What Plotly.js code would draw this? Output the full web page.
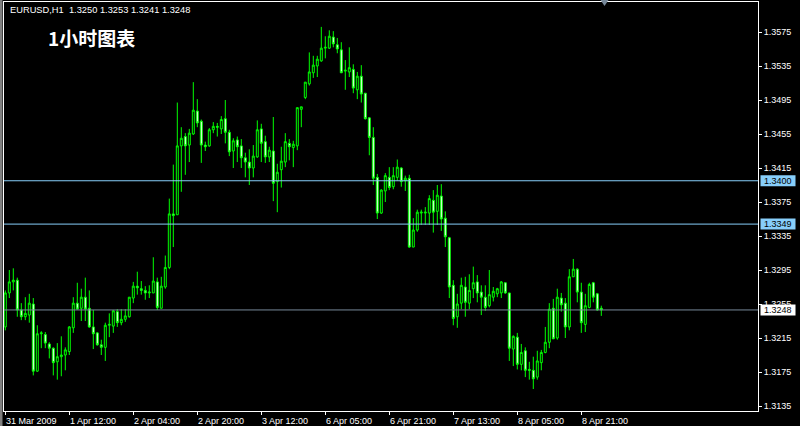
<!DOCTYPE html>
<html>
<head>
<meta charset="utf-8">
<script src="https://cdn.plot.ly/plotly-3.0.1.min.js"></script>
<style>html,body{margin:0;padding:0;background:#000;}#chart{width:800px;height:426px;}</style>
</head>
<body>
<div id="chart"></div>
<script>
// ---- data (EURUSD H1) ----
const symbolTitle = "EURUSD,H1";
const chartTitle = "1小时图表";
const lastQuote = [1.3250, 1.3253, 1.3241, 1.3248]; // O H L C of last bar

const openP = [
1.3228,1.3268,1.3281,1.3283,1.3248,1.3240,1.3242,1.3255,1.3176,1.3220,
1.3219,1.3208,1.3203,1.3187,1.3193,1.3195,1.3199,1.3227,1.3256,1.3250,
1.3263,1.3250,1.3228,1.3221,1.3207,1.3204,1.3230,1.3229,1.3246,1.3233,
1.3237,1.3240,1.3262,1.3276,1.3273,1.3271,1.3268,1.3268,1.3281,1.3250,
1.3275,1.3298,1.3361,1.3360,1.3441,1.3452,1.3442,1.3455,1.3482,1.3470,
1.3442,1.3441,1.3460,1.3464,1.3461,1.3473,1.3457,1.3435,1.3448,1.3441,
1.3427,1.3422,1.3415,1.3428,1.3461,1.3446,1.3428,1.3435,1.3399,1.3413,
1.3422,1.3444,1.3439,1.3441,1.3484,1.3498,1.3514,1.3527,1.3535,1.3541,
1.3556,1.3556,1.3569,1.3560,1.3554,1.3529,1.3528,1.3531,1.3507,1.3523,
1.3503,1.3474,1.3451,1.3404,1.3362,1.3388,1.3404,1.3393,1.3404,1.3415,
1.3400,1.3403,1.3322,1.3342,1.3362,1.3362,1.3362,1.3377,1.3364,1.3382,
1.3356,1.3333,1.3277,1.3240,1.3256,1.3275,1.3256,1.3273,1.3281,1.3269,
1.3263,1.3253,1.3263,1.3267,1.3268,1.3280,1.3268,1.3202,1.3216,1.3184,
1.3200,1.3178,1.3177,1.3169,1.3186,1.3198,1.3210,1.3250,1.3215,1.3262,
1.3256,1.3228,1.3287,1.3296,1.3269,1.3231,1.3251,1.3280,1.3267,1.3250];

const highP = [
1.3271,1.3295,1.3297,1.3286,1.3256,1.3263,1.3267,1.3262,1.3230,1.3223,
1.3222,1.3210,1.3204,1.3209,1.3217,1.3204,1.3229,1.3263,1.3280,1.3273,
1.3286,1.3271,1.3248,1.3222,1.3213,1.3233,1.3244,1.3248,1.3249,1.3249,
1.3249,1.3263,1.3281,1.3293,1.3282,1.3276,1.3277,1.3310,1.3286,1.3287,
1.3312,1.3379,1.3419,1.3492,1.3463,1.3456,1.3461,1.3516,1.3496,1.3472,
1.3446,1.3462,1.3469,1.3468,1.3476,1.3495,1.3460,1.3450,1.3452,1.3449,
1.3433,1.3437,1.3442,1.3471,1.3467,1.3453,1.3440,1.3475,1.3420,1.3440,
1.3456,1.3449,1.3447,1.3486,1.3487,1.3516,1.3551,1.3547,1.3547,1.3581,
1.3570,1.3577,1.3576,1.3568,1.3563,1.3542,1.3557,1.3537,1.3528,1.3536,
1.3503,1.3475,1.3463,1.3408,1.3390,1.3409,1.3416,1.3416,1.3425,1.3416,
1.3406,1.3407,1.3356,1.3366,1.3366,1.3369,1.3383,1.3389,1.3395,1.3396,
1.3364,1.3334,1.3283,1.3267,1.3286,1.3287,1.3290,1.3299,1.3289,1.3277,
1.3277,1.3295,1.3275,1.3274,1.3282,1.3280,1.3268,1.3218,1.3221,1.3208,
1.3204,1.3187,1.3193,1.3200,1.3201,1.3228,1.3256,1.3261,1.3273,1.3268,
1.3262,1.3296,1.3308,1.3297,1.3280,1.3267,1.3280,1.3281,1.3268,1.3253];

const lowP = [
1.3224,1.3262,1.3271,1.3240,1.3236,1.3236,1.3233,1.3171,1.3175,1.3203,
1.3203,1.3191,1.3171,1.3166,1.3170,1.3177,1.3195,1.3221,1.3248,1.3235,
1.3235,1.3227,1.3202,1.3206,1.3195,1.3188,1.3216,1.3221,1.3228,1.3230,
1.3234,1.3239,1.3256,1.3266,1.3266,1.3260,1.3262,1.3268,1.3248,1.3250,
1.3273,1.3296,1.3322,1.3360,1.3387,1.3407,1.3422,1.3454,1.3463,1.3421,
1.3435,1.3440,1.3456,1.3452,1.3455,1.3444,1.3429,1.3415,1.3422,1.3415,
1.3404,1.3395,1.3404,1.3427,1.3422,1.3421,1.3422,1.3376,1.3363,1.3392,
1.3416,1.3424,1.3416,1.3436,1.3463,1.3496,1.3512,1.3521,1.3522,1.3540,
1.3544,1.3555,1.3557,1.3550,1.3527,1.3507,1.3522,1.3503,1.3496,1.3492,
1.3472,1.3430,1.3395,1.3355,1.3361,1.3375,1.3389,1.3390,1.3400,1.3393,
1.3388,1.3321,1.3322,1.3340,1.3348,1.3348,1.3348,1.3339,1.3348,1.3341,
1.3322,1.3262,1.3230,1.3227,1.3249,1.3240,1.3249,1.3262,1.3257,1.3242,
1.3247,1.3251,1.3258,1.3263,1.3262,1.3267,1.3188,1.3182,1.3178,1.3177,
1.3169,1.3166,1.3155,1.3166,1.3177,1.3197,1.3203,1.3214,1.3213,1.3246,
1.3215,1.3224,1.3287,1.3257,1.3221,1.3222,1.3250,1.3257,1.3247,1.3241];

const closeP = [
1.3268,1.3281,1.3283,1.3248,1.3240,1.3244,1.3256,1.3176,1.3220,1.3221,
1.3209,1.3203,1.3186,1.3193,1.3195,1.3201,1.3228,1.3256,1.3249,1.3263,
1.3249,1.3228,1.3220,1.3207,1.3204,1.3230,1.3231,1.3247,1.3233,1.3237,
1.3241,1.3263,1.3276,1.3274,1.3271,1.3268,1.3269,1.3282,1.3251,1.3276,
1.3298,1.3361,1.3359,1.3441,1.3450,1.3441,1.3456,1.3483,1.3468,1.3442,
1.3440,1.3460,1.3464,1.3463,1.3472,1.3457,1.3434,1.3447,1.3440,1.3427,
1.3422,1.3415,1.3429,1.3460,1.3444,1.3428,1.3436,1.3397,1.3410,1.3423,
1.3446,1.3440,1.3443,1.3486,1.3487,1.3516,1.3528,1.3536,1.3543,1.3556,
1.3557,1.3570,1.3561,1.3555,1.3527,1.3530,1.3533,1.3509,1.3523,1.3502,
1.3473,1.3451,1.3403,1.3362,1.3389,1.3406,1.3392,1.3406,1.3416,1.3399,
1.3403,1.3322,1.3342,1.3363,1.3363,1.3363,1.3379,1.3363,1.3383,1.3355,
1.3334,1.3275,1.3238,1.3255,1.3277,1.3257,1.3271,1.3280,1.3268,1.3263,
1.3251,1.3266,1.3270,1.3273,1.3281,1.3268,1.3203,1.3217,1.3184,1.3198,
1.3177,1.3177,1.3167,1.3188,1.3198,1.3210,1.3249,1.3214,1.3263,1.3254,
1.3228,1.3287,1.3296,1.3269,1.3233,1.3253,1.3278,1.3263,1.3248,1.3248];

const xTickIdx = [0, 16, 32, 48, 64, 80, 96, 112, 128, 144];
const xTickText = ["31 Mar 2009","1 Apr 12:00","2 Apr 04:00","2 Apr 20:00","3 Apr 12:00",
                   "6 Apr 05:00","6 Apr 21:00","7 Apr 13:00","8 Apr 05:00","8 Apr 21:00"];
const yTickVals = [1.3135,1.3175,1.3215,1.3255,1.3295,1.3335,1.3375,1.3415,1.3455,1.3495,1.3535,1.3575];
const levelLines = [1.3400, 1.3349];
const bidLine = 1.3248;

// ---- geometry (pixels) ----
const PL = 4, PR = 758, PT = 2, PB = 411;
const PW = PR - PL, PH = PB - PT;
const px = x => (x - PL) / PW;
const py = y => (PB - y) / PH;
const yMin = 1.312912, yMax = 1.361029;
const pricePerPx = (yMax - yMin) / PH;

const barIdx = openP.map((_, i) => i);
const FONT = "Liberation Sans, Arial, sans-serif";

const trace = {
  type: "candlestick",
  x: barIdx, open: openP, high: highP, low: lowP, close: closeP,
  increasing: {line: {color: "#00FF00", width: 1}, fillcolor: "#000000"},
  decreasing: {line: {color: "#00FF00", width: 1}, fillcolor: "#FFFFFF"},
  whiskerwidth: 0,
  hoverinfo: "skip",
  showlegend: false
};

const shapes = [];
const annotations = [];

// left window edge
shapes.push({type: "rect", xref: "paper", yref: "paper", x0: px(0), x1: px(2.5), y0: py(426), y1: py(0),
  fillcolor: "#808080", line: {width: 0}, layer: "above"});

levelLines.forEach(v => {
  shapes.push({type: "line", xref: "paper", yref: "y", x0: 0, x1: 1, y0: v, y1: v,
    line: {color: "#87CEFA", width: 1}, layer: "above"});
  shapes.push({type: "rect", xref: "paper", yref: "y", x0: px(760.5), x1: px(795.5),
    y0: v - 5.5 * pricePerPx, y1: v + 5.5 * pricePerPx,
    fillcolor: "#87CEFA", line: {width: 0}, layer: "above"});
  annotations.push({xref: "paper", yref: "y", x: px(778), y: v, text: v.toFixed(4),
    showarrow: false, xanchor: "center", yanchor: "middle",
    font: {family: FONT, size: 9, color: "#000000"}});
});

shapes.push({type: "line", xref: "paper", yref: "y", x0: 0, x1: 1, y0: bidLine, y1: bidLine,
  line: {color: "#778899", width: 1}, layer: "above"});
shapes.push({type: "rect", xref: "paper", yref: "y", x0: px(760.5), x1: px(795.5),
  y0: bidLine - 5.5 * pricePerPx, y1: bidLine + 5.5 * pricePerPx,
  fillcolor: "#FFFFFF", line: {width: 0}, layer: "above"});
annotations.push({xref: "paper", yref: "y", x: px(778), y: bidLine, text: bidLine.toFixed(4),
  showarrow: false, xanchor: "center", yanchor: "middle",
  font: {family: FONT, size: 9, color: "#000000"}});

// chart shift marker
shapes.push({type: "path", xref: "paper", yref: "paper",
  path: `M ${px(600.5)} ${py(0)} L ${px(608.5)} ${py(0)} L ${px(604.5)} ${py(6)} Z`,
  fillcolor: "#778899", line: {width: 0}, layer: "above"});

// header
annotations.push({xref: "paper", yref: "paper", x: px(7.5), y: py(10), xanchor: "left", yanchor: "middle",
  text: symbolTitle + "\u00a0 " + lastQuote.map(v => v.toFixed(4)).join(" "),
  showarrow: false, font: {family: FONT, size: 9.3, color: "#FFFFFF"}});
annotations.push({xref: "paper", yref: "paper", x: px(46), y: py(37), xanchor: "left", yanchor: "middle",
  text: "<b>" + chartTitle + "</b>",
  showarrow: false, font: {family: "Noto Sans CJK SC, sans-serif", size: 19, color: "#FFFFFF"}});

// x tick labels (left aligned at the tick)
xTickIdx.forEach((xi, k) => {
  annotations.push({xref: "x", yref: "paper", x: xi, y: py(420.5), xanchor: "left", yanchor: "middle",
    xshift: -1.5, text: xTickText[k], showarrow: false,
    font: {family: FONT, size: 9, color: "#FFFFFF"}});
});

const layout = {
  width: 800, height: 426,
  margin: {l: PL, r: 800 - PR, t: PT, b: 426 - PB, pad: 0},
  paper_bgcolor: "#000000", plot_bgcolor: "#000000",
  showlegend: false, hovermode: false,
  xaxis: {
    range: [-0.325, -0.325 + PW / 4],
    rangeslider: {visible: false},
    showgrid: false, zeroline: false,
    showline: true, mirror: true, linecolor: "#FFFFFF", linewidth: 1,
    tickmode: "array", tickvals: xTickIdx, ticktext: xTickText,
    showticklabels: false,
    ticks: "outside", ticklen: 3, tickcolor: "#FFFFFF", tickwidth: 1,
    fixedrange: true
  },
  yaxis: {
    range: [yMin, yMax],
    side: "right",
    showgrid: false, zeroline: false,
    showline: true, mirror: true, linecolor: "#FFFFFF", linewidth: 1,
    tickmode: "array", tickvals: yTickVals, tickformat: ".4f",
    ticks: "outside", ticklen: 3, tickcolor: "#FFFFFF", tickwidth: 1,
    tickfont: {family: FONT, size: 9, color: "#FFFFFF"},
    fixedrange: true
  },
  shapes: shapes,
  annotations: annotations
};

Plotly.newPlot("chart", [trace], layout, {displayModeBar: false, staticPlot: true});
</script>
</body>
</html>
